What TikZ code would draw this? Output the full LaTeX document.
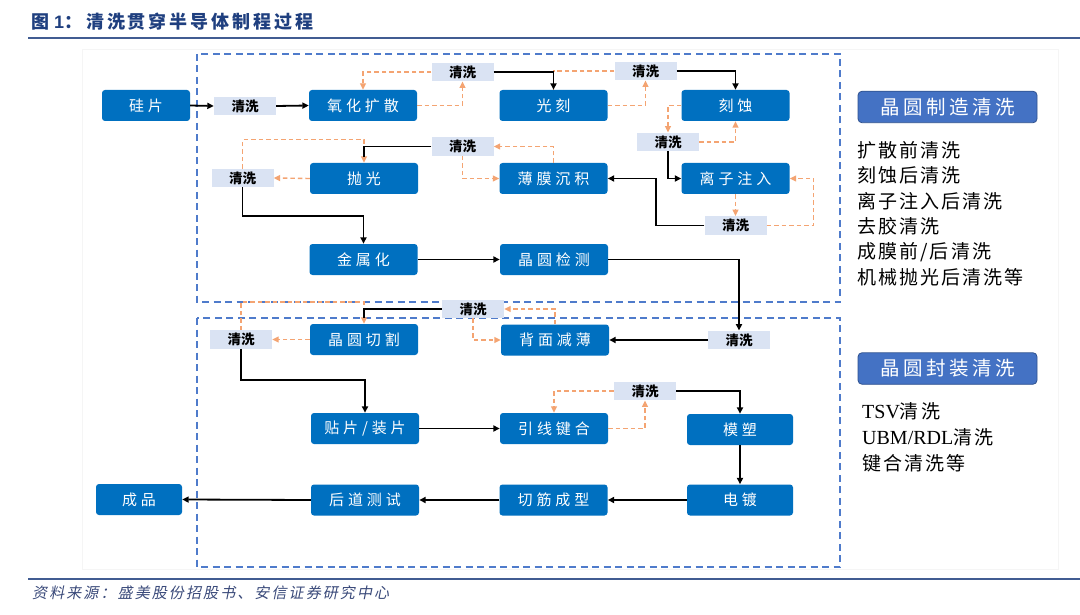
\documentclass[tikz,border=0pt]{standalone}
\usepackage{fontspec}
\setmainfont{Liberation Serif}
\setsansfont{Liberation Sans}
\newfontfamily\cjk{Noto Sans CJK SC}
\newfontfamily\cjkls[LetterSpace=26]{Noto Sans CJK SC}
\newfontfamily\cjkhd[LetterSpace=18]{Noto Sans CJK SC}
\newfontfamily\cjklist[LetterSpace=11]{Noto Sans CJK SC}
\newfontfamily\cjkit[FakeSlant=0.2,LetterSpace=14]{Noto Sans CJK SC}
\newfontfamily\cjkti[LetterSpace=16]{Noto Sans CJK SC}
\usetikzlibrary{arrows.meta}
\definecolor{procblue}{HTML}{0070C0}
\definecolor{clnfill}{HTML}{DAE3F3}
\definecolor{orng}{HTML}{F4A472}
\definecolor{dashblue}{HTML}{4F7BCB}
\definecolor{hdrblue}{HTML}{4472C4}
\definecolor{hdrline}{HTML}{2F528F}
\definecolor{titleblue}{HTML}{1F3F7F}
\definecolor{footblue}{HTML}{3A4A7A}
\tikzset{
  proc/.style={fill=procblue, rounded corners=3pt, minimum width=108pt, minimum height=31pt,
    inner sep=0pt, text=white, font=\cjkls\fontsize{15}{15}\selectfont},
  cln/.style={fill=clnfill, minimum width=62pt, minimum height=18.5pt, inner sep=0pt,
    font=\cjk\bfseries\fontsize{13.5}{13.5}\selectfont},
  blk/.style={draw=black, line width=1.8pt, -{Triangle[length=6.5pt,width=6pt]}},
  blkn/.style={draw=black, line width=1.8pt},
  org/.style={draw=orng, line width=1.4pt, dash pattern=on 4.5pt off 3pt, -{Triangle[length=6.5pt,width=6pt]}},
  orgn/.style={draw=orng, line width=1.4pt, dash pattern=on 4.5pt off 3pt},
  frame/.style={draw=dashblue, line width=1.8pt, dash pattern=on 7pt off 4.5pt},
  hdr/.style={fill=hdrblue, draw=hdrline, line width=0.8pt, rounded corners=4pt, minimum width=179pt,
    minimum height=31.5pt, inner sep=0pt, text=white, font=\cjkhd\fontsize{19.5}{19.5}\selectfont},
  lst/.style={anchor=west, inner sep=0pt, font=\cjklist\fontsize{19}{19}\selectfont},
  lst2/.style={anchor=west, inner sep=0pt, font=\fontsize{20}{20}\selectfont}
}
\begin{document}
\begin{tikzpicture}[x=1pt,y=-1pt]
\useasboundingbox (0,0) rectangle (1080,615);
\fill[white] (0,0) rectangle (1080,615);
% title
\node[anchor=west, inner sep=0pt, text=titleblue] (title) at (31,22)
  {{\cjk\bfseries\fontsize{18}{18}\selectfont 图\hspace{5pt}}{\sffamily\bfseries\fontsize{18}{18}\selectfont 1}{\cjk\bfseries\fontsize{18}{18}\selectfont ：}\hspace{4pt}{\cjkti\bfseries\fontsize{18}{18}\selectfont 清洗贯穿半导体制程过程}};
\draw[draw=titleblue!85!white, line width=1.8pt] (28,38) -- (1080,38);
% faint frame
\draw[draw=black!4, line width=0.8pt] (82,49) rectangle (1058,569);
% dashed frames
\draw[frame] (197,54) rectangle (840,302);
\draw[frame] (197,318) rectangle (840,567);
% footer
\draw[draw=titleblue!85!white, line width=1.3pt] (28,579) -- (1080,579);
\node[anchor=west, inner sep=0pt, text=footblue, font=\cjkit\fontsize{15}{15}\selectfont] (foot) at (32,593)
  {资料来源：盛美股份招股书、安信证券研究中心};

% process nodes
\node[proc, minimum width=88pt] (wafer) at (146,105.5) {硅片};
\node[proc] (oxi) at (363,105.5) {氧化扩散};
\node[proc] (litho) at (553.5,105.5) {光刻};
\node[proc] (etch) at (735.5,105.5) {刻蚀};
\node[proc] (ion) at (735.5,178.5) {离子注入};
\node[proc] (film) at (553.5,178.5) {薄膜沉积};
\node[proc] (pol) at (364,178.5) {抛光};
\node[proc] (metal) at (363.5,259.5) {金属化};
\node[proc] (insp) at (554,259.5) {晶圆检测};
\node[proc] (thin) at (555,340) {背面减薄};
\node[proc] (dice) at (364,339.5) {晶圆切割};
\node[proc] (bond) at (365,428.5) {贴片/装片};
\node[proc] (wire) at (554,428.5) {引线键合};
\node[proc, minimum width=106pt] (mold) at (740,429.5) {模塑};
\node[proc, minimum width=106pt] (plate) at (740,500) {电镀};
\node[proc] (trim) at (553.5,500) {切筋成型};
\node[proc] (test) at (365,500) {后道测试};
\node[proc, minimum width=86pt] (prod) at (139,499.5) {成品};

% cleaning nodes
\node[cln] (c1) at (245,106) {清洗};
\node[cln] (c2) at (462.5,72) {清洗};
\node[cln] (c3) at (645.5,71) {清洗};
\node[cln] (c4) at (668,142) {清洗};
\node[cln] (c5) at (735.5,225.5) {清洗};
\node[cln] (c6) at (462.5,146.5) {清洗};
\node[cln] (c7) at (242.5,178) {清洗};
\node[cln] (c8) at (739,340) {清洗};
\node[cln] (c9) at (473,309) {清洗};
\node[cln] (c10) at (241,339.5) {清洗};
\node[cln] (c11) at (645,391) {清洗};

% right side
\node[hdr] (h1) at (947.5,107) {晶圆制造清洗};
\node[lst] (l1) at (857,150) {扩散前清洗};
\node[lst] (l2) at (857,175.5) {刻蚀后清洗};
\node[lst] (l3) at (857,201) {离子注入后清洗};
\node[lst] (l4) at (857,226.5) {去胶清洗};
\node[lst] (l5) at (857,252) {成膜前/后清洗};
\node[lst] (l6) at (857,277.5) {机械抛光后清洗等};
\node[hdr] (h2) at (947.5,368.5) {晶圆封装清洗};
\node[lst2] (m1) at (862,411) {TSV{\cjklist\fontsize{19}{19}\selectfont 清洗}};
\node[lst2] (m2) at (862,437) {UBM/RDL{\cjklist\fontsize{19}{19}\selectfont 清洗}};
\node[lst] (m3) at (862,463) {键合清洗等};

% orange dashed connectors
\draw[org] (oxi.east) -| (c2.south);
\draw[org] (c2.west) -| (oxi.north);
\draw[org] (litho.east) -| (c3.south);
\draw[orgn] (c3.west) -| (litho.north);
\draw[org] (etch.west) -| (c4.north);
\draw[org] (c4.east) -| (etch.south);
\draw[org] (ion.south) -- (c5.north);
\draw[org] (c5.east) -| ([xshift=24pt]ion.east) -- (ion.east);
\draw[org] (film.north) |- (c6.east);
\draw[org] (c6.south) |- (film.west);
\draw[org] (pol.west) -- (c7.east);
\draw[org] (c7.north) |- ([yshift=23pt]pol.north) -- (pol.north);
\draw[org] (thin.north) |- (c9.east);
\draw[org] (c9.south) |- (thin.west);
\draw[org] (dice.west) -- (c10.east);
\draw[org] (c10.north) |- ([yshift=22pt]dice.north) -- (dice.north);
\draw[org] (wire.east) -| (c11.south);
\draw[org] (c11.west) -| (wire.north);

% black connectors
\draw[blk] (wafer.east) -- (c1.west);
\draw[blk] (c1.east) -- (oxi.west);
\draw[blk] (c2.east) -| (litho.north);
\draw[blk] (c3.east) -| (etch.north);
\draw[blk] (c4.south) |- (ion.west);
\draw[blk] (c5.west) -| ([xshift=-25pt]ion.west) -- (film.east);
\draw[blkn, shorten >=5.5pt] (c6.west) -| (pol.north);
\draw[blk] (c7.south) |- ([yshift=28pt]metal.north) -- (metal.north);
\draw[blk] (metal.east) -- (insp.west);
\draw[blk] (insp.east) -| (c8.north);
\draw[blk] (c8.west) -- (thin.east);
\draw[blkn, shorten >=5.5pt] (c9.west) -| (dice.north);
\draw[blk] (c10.south) |- ([yshift=33pt]bond.north) -- (bond.north);
\draw[blk] (bond.east) -- (wire.west);
\draw[blk] (c11.east) -| (mold.north);
\draw[blk] (mold.south) -- (plate.north);
\draw[blk] (plate.west) -- (trim.east);
\draw[blk] (trim.west) -- (test.east);
\draw[blk] (test.west) -- (prod.east);
\end{tikzpicture}
\end{document}
